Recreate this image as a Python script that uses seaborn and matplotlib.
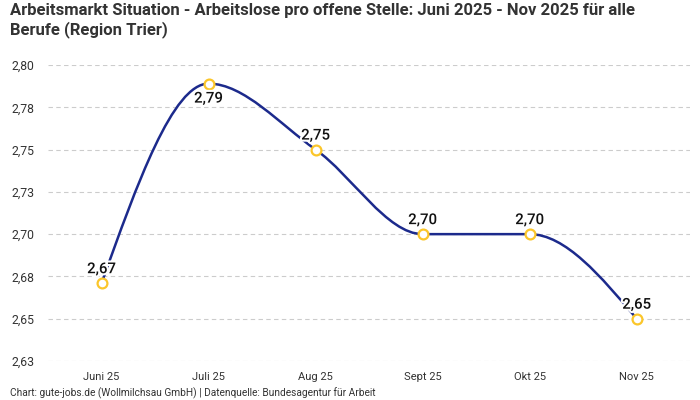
import matplotlib
matplotlib.use("Agg")
import matplotlib.pyplot as plt
import matplotlib.patheffects as pe
from matplotlib.path import Path
from matplotlib.patches import PathPatch
from matplotlib.ticker import FuncFormatter, MultipleLocator
import numpy as np
import pandas as pd
import seaborn as sns

# data
months = ["Juni 25", "Juli 25", "Aug 25", "Sept 25", "Okt 25", "Nov 25"]
values = [2.671, 2.789, 2.75, 2.70, 2.70, 2.65]
labels = ["2,67", "2,79", "2,75", "2,70", "2,70", "2,65"]

title = ("Arbeitsmarkt Situation - Arbeitslose pro offene Stelle: Juni 2025 - Nov 2025 für alle\n"
         "Berufe (Region Trier)")
footer = "Chart: gute-jobs.de (Wollmilchsau GmbH) | Datenquelle: Bundesagentur für Arbeit"

LINE = "#1c2a8c"
MARK = "#fbc62a"

sns.set_theme(style="white")
plt.rcParams["font.family"] = ["Roboto", "DejaVu Sans"]

df = pd.DataFrame({"month": months, "value": values, "pos": range(len(months))})


def monotone_path(x, y):
    """Bezier path like d3 curveMonotoneX."""
    x = np.asarray(x, float)
    y = np.asarray(y, float)
    n = len(x)
    h = np.diff(x)
    s = np.diff(y) / h
    t = np.zeros(n)
    for i in range(1, n - 1):
        p = (s[i - 1] * h[i] + s[i] * h[i - 1]) / (h[i - 1] + h[i])
        t[i] = (np.sign(s[i - 1]) + np.sign(s[i])) * min(abs(s[i - 1]), abs(s[i]), 0.5 * abs(p))
    t[0] = (3 * s[0] - t[1]) / 2
    t[-1] = (3 * s[-1] - t[-2]) / 2
    verts = [(x[0], y[0])]
    codes = [Path.MOVETO]
    for i in range(n - 1):
        dx = h[i] / 3
        verts += [(x[i] + dx, y[i] + dx * t[i]),
                  (x[i + 1] - dx, y[i + 1] - dx * t[i + 1]),
                  (x[i + 1], y[i + 1])]
        codes += [Path.CURVE4] * 3
    return Path(verts, codes)


fig = plt.figure(figsize=(7, 4), dpi=100)
ax = fig.add_axes([0.0686, 0.0975, 0.9174, 0.74])

ax.add_patch(PathPatch(monotone_path(df["pos"], df["value"]), fill=False,
                       edgecolor=LINE, lw=1.8, zorder=3))
sns.scatterplot(data=df, x="pos", y="value", ax=ax, s=50, color="white",
                edgecolor=MARK, linewidth=1.6, zorder=4, legend=False)

halo = [pe.withStroke(linewidth=3, foreground="white")]
for i, (v, lab) in enumerate(zip(values, labels)):
    off = -15 if i == 1 else 14
    ax.annotate(lab, (i, v), xytext=(0, off), textcoords="offset pixels",
                ha="center", va="center", fontsize=10.8, fontweight="medium",
                color="#111111", path_effects=halo, zorder=5)

ax.set_xlim(-0.5, 5.5)
ax.set_ylim(2.625, 2.80)
ax.yaxis.set_major_locator(MultipleLocator(0.025))
ax.yaxis.set_major_formatter(
    FuncFormatter(lambda v, _: f"{v + 1e-9:.2f}".replace(".", ",")))
ax.set_xticks(range(len(months)))
ax.set_xticklabels(months)
ax.tick_params(axis="both", length=0, labelsize=8, colors="#333333")
ax.tick_params(axis="y", pad=10, labelsize=8.8)
ax.tick_params(axis="x", pad=8)
ax.grid(axis="y", color="#cccccc", linestyle=(0, (4, 3)), linewidth=0.8)
ax.set_xlabel("")
ax.set_ylabel("")
for sp in ax.spines.values():
    sp.set_visible(False)

fig.text(10 / 700, 1 - 3 / 400, title, ha="left", va="top", fontsize=12,
         fontweight="bold", color="#333333", linespacing=1.2)
fig.text(10 / 700, 1 - 393 / 400, footer, ha="left", va="center", fontsize=7.3,
         color="#333333")

fig.savefig("out.png", dpi=100)
